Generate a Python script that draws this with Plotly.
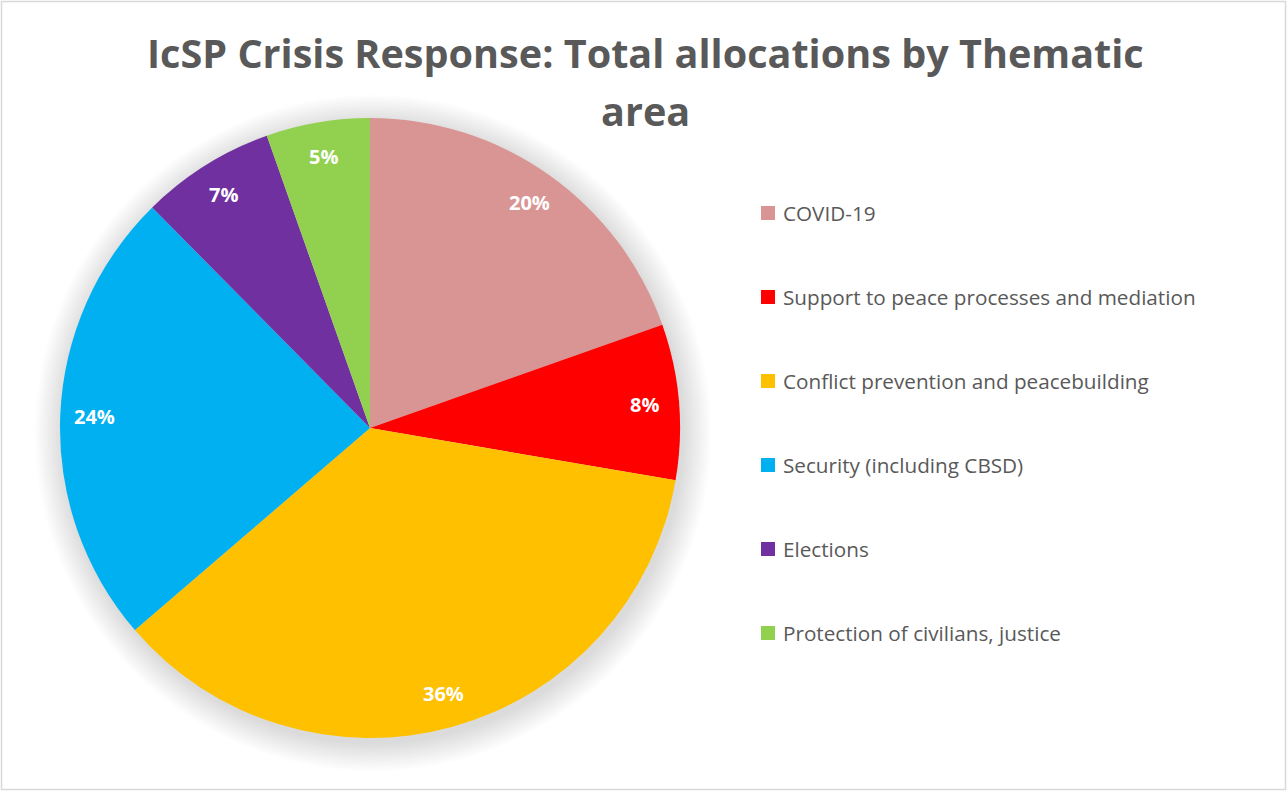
import math
import plotly.graph_objects as go

labels = ["COVID-19", "Support to peace processes and mediation",
          "Conflict prevention and peacebuilding", "Security (including CBSD)",
          "Elections", "Protection of civilians, justice"]
values = [19.6, 8.1, 36.0, 23.9, 7.0, 5.4]
colors = ["#D99594", "#FF0000", "#FFC000", "#00B0F0", "#7030A0", "#92D050"]
title_lines = ["IcSP Crisis Response: Total allocations by Thematic", "area"]

W, H = 1287, 791
CX, CY, R = 370, 428, 310
FONT = "Open Sans, Calibri, sans-serif"
GREY = "#595959"

fig = go.Figure(go.Pie(
    labels=labels, values=values, sort=False, direction="clockwise", rotation=0,
    marker=dict(colors=colors, line=dict(width=0)),
    textinfo="none", hoverinfo="skip", showlegend=False,
    domain=dict(x=[(CX - R) / W, (CX + R) / W], y=[1 - (CY + R) / H, 1 - (CY - R) / H]),
))

shapes = []
# soft shadow behind the pie
for k in range(18):
    rr = R + 1 + 1.6 * k
    ox, oy = CX + 3, CY + 5
    shapes.append(dict(type="circle", xref="paper", yref="paper", layer="below",
                       x0=(ox - rr) / W, x1=(ox + rr) / W,
                       y0=1 - (oy + rr) / H, y1=1 - (oy - rr) / H,
                       fillcolor="rgba(0,0,0,0.009)", line=dict(width=0)))
# chart border
shapes.append(dict(type="rect", xref="paper", yref="paper", x0=1.5 / W, x1=(W - 1.5) / W,
                   y0=1.5 / H, y1=1 - 1.5 / H, line=dict(color="#D9D9D9", width=1.5)))

annotations = []
total = sum(values)
cum = 0
for v in values:
    mid = (cum + v / 2) / total * 2 * math.pi
    cum += v
    r = 0.89 * R
    px = CX + r * math.sin(mid)
    py = CY - r * math.cos(mid)
    annotations.append(dict(x=px / W, y=1 - py / H, xref="paper", yref="paper",
                            xanchor="center", yanchor="middle",
                            text=f"{round(v / total * 100)}%", showarrow=False,
                            font=dict(family=FONT, size=20, color="white", weight="bold")))

# legend drawn manually
LX, LY0, LDY, SQ = 761, 213, 84, 14
for i, (lab, col) in enumerate(zip(labels, colors)):
    yc = LY0 + LDY * i
    shapes.append(dict(type="rect", xref="paper", yref="paper",
                       x0=LX / W, x1=(LX + SQ) / W, y0=1 - (yc + SQ / 2) / H, y1=1 - (yc - SQ / 2) / H,
                       fillcolor=col, line=dict(width=0)))
    annotations.append(dict(x=(LX + SQ + 6) / W, y=1 - yc / H, xref="paper", yref="paper",
                            xanchor="left", yanchor="middle", text=lab, showarrow=False,
                            font=dict(family=FONT, size=20.7, color=GREY)))

# title (two lines, as wrapped in the reference)
for j, line in enumerate(title_lines):
    annotations.append(dict(x=645 / W, y=1 - (53 + 58 * j) / H, xref="paper", yref="paper",
                            xanchor="center", yanchor="middle", text=line, showarrow=False,
                            font=dict(family=FONT, size=39.6, color=GREY, weight="bold")))

fig.update_layout(
    width=W, height=H, margin=dict(l=0, r=0, t=0, b=0),
    paper_bgcolor="white", plot_bgcolor="white",
    shapes=shapes, annotations=annotations, showlegend=False,
)

fig.write_html("out.html")
